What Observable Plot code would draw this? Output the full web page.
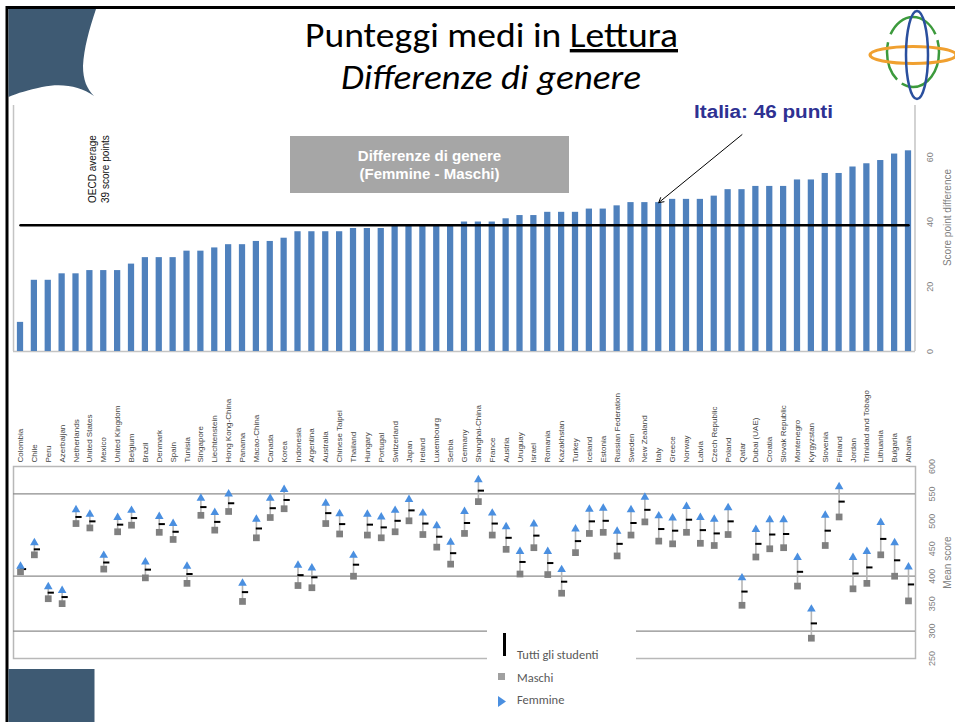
<!DOCTYPE html>
<html>
<head>
<meta charset="utf-8">
<script src="https://cdn.jsdelivr.net/npm/d3@7"></script>
<script src="https://cdn.jsdelivr.net/npm/@observablehq/plot@0.6"></script>
<style>
html, body { margin: 0; padding: 0; background: #fff; }
#page { position: relative; width: 955px; height: 722px; overflow: hidden; background: #fff; font-family: "Liberation Sans", Arial, sans-serif; }
.abs { position: absolute; }
#topchart { left: 0; top: 100px; }
#bottomchart { left: 0; top: 380px; }
#graybox { left: 290px; top: 136px; width: 279px; height: 57px; background: #a6a6a6; color: #fff; font-weight: bold; font-size: 15px; line-height: 18px; text-align: center; box-sizing: border-box; padding-top: 11px; font-family: "Liberation Sans", Arial, sans-serif; }
#legend { left: 487px; top: 622px; width: 149px; height: 96px; background: #fff; font-family: Carlito, Lato, "Open Sans", sans-serif; color: #595959; font-size: 12.5px; }
#legend .item { position: absolute; left: 30px; line-height: 14px; white-space: nowrap; }
</style>
</head>
<body>
<div id="page">
  <div id="topchart" class="abs"></div>
  <div id="bottomchart" class="abs"></div>
  <div id="graybox" class="abs"></div>
  <div id="legend" class="abs"></div>
  <svg id="notes" class="abs" width="955" height="722" style="left:0;top:0;pointer-events:none"></svg>
  <svg id="deco" class="abs" width="955" height="722" style="left:0;top:0;pointer-events:none">
    <line x1="6" y1="7.5" x2="955" y2="7.5" stroke="#000" stroke-width="3"/>
    <line x1="7" y1="6" x2="7" y2="722" stroke="#000" stroke-width="3"/>
    <path d="M8.5,9 L96,9 C89,30 84,48 83,66 C83,80 87,89 94,96 C80,86 62,83 42,87 C28,90 18,93 8.5,97 Z" fill="#3e5a73"/>
    <rect x="8.5" y="669" width="86" height="53" fill="#3e5a73"/>
    <ellipse cx="913" cy="52" rx="26" ry="35" fill="none" stroke="#3c9a3c" stroke-width="2.5" stroke-dasharray="60 6 40 8"/>
    <ellipse cx="913" cy="55" rx="43" ry="8.5" fill="none" stroke="#f0a030" stroke-width="3.2"/>
    <ellipse cx="917" cy="55" rx="11" ry="44" fill="none" stroke="#2a4f9e" stroke-width="2.5"/>
  </svg>
</div>
<script>
// ---- Data (PISA reading, gender differences) ----
const countries = ["Colombia","Chile","Peru","Azerbaijan","Netherlands","United States","Mexico","United Kingdom","Belgium","Brazil","Denmark","Spain","Tunisia","Singapore","Liechtenstein","Hong Kong-China","Panama","Macao-China","Canada","Korea","Indonesia","Argentina","Australia","Chinese Taipei","Thailand","Hungary","Portugal","Switzerland","Japan","Ireland","Luxembourg","Serbia","Germany","Shanghai-China","France","Austria","Uruguay","Israel","Romania","Kazakhstan","Turkey","Iceland","Estonia","Russian Federation","Sweden","New Zealand","Italy","Greece","Norway","Latvia","Czech Republic","Poland","Qatar","Dubai (UAE)","Croatia","Slovak Republic","Montenegro","Kyrgyzstan","Slovenia","Finland","Jordan","Trinidad and Tobago","Lithuania","Bulgaria","Albania"];
const gap = [9,22,22,24,24,25,25,25,27,29,29,29,31,31,32,33,33,34,34,35,37,37,37,37,38,38,38,39,39,39,39,39,40,40,40,41,42,42,43,43,43,44,44,45,46,46,46,47,47,47,48,50,50,51,51,51,53,53,55,55,57,58,59,61,62];
const maschi = [408,439,359,350,496,488,413,481,493,397,480,467,387,511,484,518,354,470,507,523,383,379,496,477,400,475,470,481,501,476,453,422,478,536,475,449,404,452,403,369,443,478,480,437,475,499,464,459,480,460,456,476,347,435,450,452,382,287,456,508,377,387,439,400,355];
const femmine = [418,461,381,374,521,513,438,507,520,426,509,496,418,542,516,550,387,504,542,558,420,415,533,514,438,513,508,520,540,515,492,462,518,576,515,490,445,495,445,412,486,522,524,482,521,544,510,506,527,507,504,525,397,485,503,503,434,340,511,563,434,445,498,461,417];
const tutti = [413,449,370,362,508,500,425,494,506,412,495,481,404,526,499,533,371,487,524,539,402,398,515,495,421,494,489,501,520,496,472,442,497,556,496,470,426,474,424,390,464,500,501,459,497,521,486,483,503,484,478,500,372,459,476,477,408,314,483,536,405,416,468,429,385];
const oecdAvg = 39;
const topTicks = [0, 20, 40, 60];
const bottomTicks = [250, 300, 350, 400, 450, 500, 550, 600];
const bottomGrid = [300, 400, 550];
const italia = "Italy";

const rows = countries.map((c, i) => ({country: c, gap: gap[i], maschi: maschi[i], femmine: femmine[i], tutti: tutti[i]}));

const xScale = {type: "band", domain: countries, paddingInner: 0.55, paddingOuter: 0.28, axis: null};
const font = "'Liberation Sans', Arial, sans-serif";

// ---- Top chart: gender differences ----
const topChart = Plot.plot({
  width: 955, height: 255,
  marginLeft: 13, marginRight: 40, marginTop: 5, marginBottom: 4,
  style: {background: "transparent", fontFamily: font, overflow: "visible"},
  x: xScale,
  y: {domain: [0, 76], axis: null},
  marks: [
    Plot.ruleX([countries[0]], {x: d => d, dx: -7, stroke: "#c4c4c4", strokeWidth: 1.5}),
    Plot.ruleX([countries[countries.length - 1]], {x: d => d, dx: 6.5, stroke: "#c4c4c4", strokeWidth: 1.5}),
    Plot.ruleY([0], {stroke: "#c4c4c4", strokeWidth: 1.5}),
    Plot.barY(rows, {x: "country", y: "gap", fill: "#4f81bd"}),
    Plot.line(countries, {x: d => d, y: () => oecdAvg, stroke: "#000", strokeWidth: 2.5}),
    Plot.arrow(rows.filter(d => d.country === italia), {x1: () => "Qatar", y1: () => 67, x2: "country", y2: "gap", stroke: "#000", strokeWidth: 1, headLength: 8}),
    Plot.text(topTicks, {y: d => d, text: d => String(d), frameAnchor: "right", dx: 15, rotate: -90, textAnchor: "middle", lineAnchor: "middle", fontSize: 9, fill: "#808080"}),
    Plot.text(["Score point difference"], {text: d => d, frameAnchor: "right", dx: 32, dy: -11, rotate: -90, textAnchor: "middle", lineAnchor: "middle", fontSize: 10, fill: "#808080"})
  ]
});
document.getElementById("topchart").appendChild(topChart);

// ---- Bottom chart: mean scores by gender ----
const bottomChart = Plot.plot({
  width: 955, height: 342,
  marginLeft: 13, marginRight: 40, marginTop: 86, marginBottom: 64,
  style: {background: "transparent", fontFamily: font, overflow: "visible"},
  x: xScale,
  y: {domain: [250, 600], axis: null},
  marks: [
    Plot.frame({stroke: "#b8b8b8", strokeWidth: 1.5}),
    Plot.ruleY(bottomGrid, {stroke: "#8c8c8c", strokeWidth: 1.2}),
    Plot.ruleX(rows, {x: "country", y1: "maschi", y2: "femmine", stroke: "#b5b5b5", strokeWidth: 1.6}),
    Plot.tickY(rows, {x: "country", y: "tutti", stroke: "#000", strokeWidth: 2, dx: 3}),
    Plot.dot(rows, {x: "country", y: "maschi", symbol: "square", fill: "#808080", r: 3.8}),
    Plot.dot(rows, {x: "country", y: "femmine", symbol: "triangle", fill: "#4a8fe0", r: 3.2}),
    Plot.text(rows, {x: "country", text: "country", frameAnchor: "top", dy: -4, rotate: -90, textAnchor: "start", lineAnchor: "middle", fontSize: 8, fill: "#444"}),
    Plot.text(bottomTicks, {y: d => d, text: d => String(d), frameAnchor: "right", dx: 17, rotate: -90, textAnchor: "middle", lineAnchor: "middle", fontSize: 9, fill: "#808080"}),
    Plot.text(["Mean score"], {text: d => d, frameAnchor: "right", dx: 32, rotate: -90, textAnchor: "middle", lineAnchor: "middle", fontSize: 10, fill: "#808080"})
  ]
});
document.getElementById("bottomchart").appendChild(bottomChart);

// ---- Annotations ----
document.getElementById("graybox").innerHTML = "Differenze di genere<br>(Femmine - Maschi)";

const itIdx = countries.indexOf(italia);
const notes = d3.select("#notes");
const titleFont = "Carlito, Lato, 'Open Sans', sans-serif";
const t1 = notes.append("text").attr("x", 305).attr("y", 47).attr("font-family", titleFont).attr("font-size", 34).attr("fill", "#000")
  .attr("textLength", 373).attr("lengthAdjust", "spacingAndGlyphs");
t1.append("tspan").text("Punteggi medi in ");
t1.append("tspan").attr("text-decoration", "underline").text("Lettura");
notes.append("text").attr("x", 341).attr("y", 89).attr("font-family", titleFont).attr("font-size", 34).attr("font-style", "italic")
  .attr("textLength", 300).attr("lengthAdjust", "spacingAndGlyphs").text("Differenze di genere");
notes.append("text").attr("x", 694).attr("y", 118).attr("font-family", font).attr("font-size", 17.5).attr("font-weight", "bold").attr("fill", "#2e3192")
  .attr("textLength", 139).attr("lengthAdjust", "spacingAndGlyphs").text(`Italia: ${gap[itIdx]} punti`);
notes.append("text").attr("transform", "translate(95.5,203) rotate(-90)").attr("font-family", font).attr("font-size", 10).attr("fill", "#111").text("OECD average");
notes.append("text").attr("transform", "translate(108.5,203) rotate(-90)").attr("font-family", font).attr("font-size", 10).attr("fill", "#111").text(`${oecdAvg} score points`);

// ---- Legend ----
const lg = d3.select("#legend");
lg.append("div").style("position", "absolute").style("left", "16px").style("top", "11px").style("width", "3px").style("height", "23px").style("background", "#000");
lg.append("div").attr("class", "item").style("top", "26px").text("Tutti gli studenti");
lg.append("div").style("position", "absolute").style("left", "11px").style("top", "51px").style("width", "7px").style("height", "7px").style("background", "#a0a0a0");
lg.append("div").attr("class", "item").style("top", "49px").text("Maschi");
lg.append("svg").style("position", "absolute").style("left", "11px").style("top", "74px").attr("width", 10).attr("height", 12)
  .append("polygon").attr("points", "0,0 8,5.5 0,11").attr("fill", "#4a8fe0");
lg.append("div").attr("class", "item").style("top", "71px").text("Femmine");
</script>
</body>
</html>
